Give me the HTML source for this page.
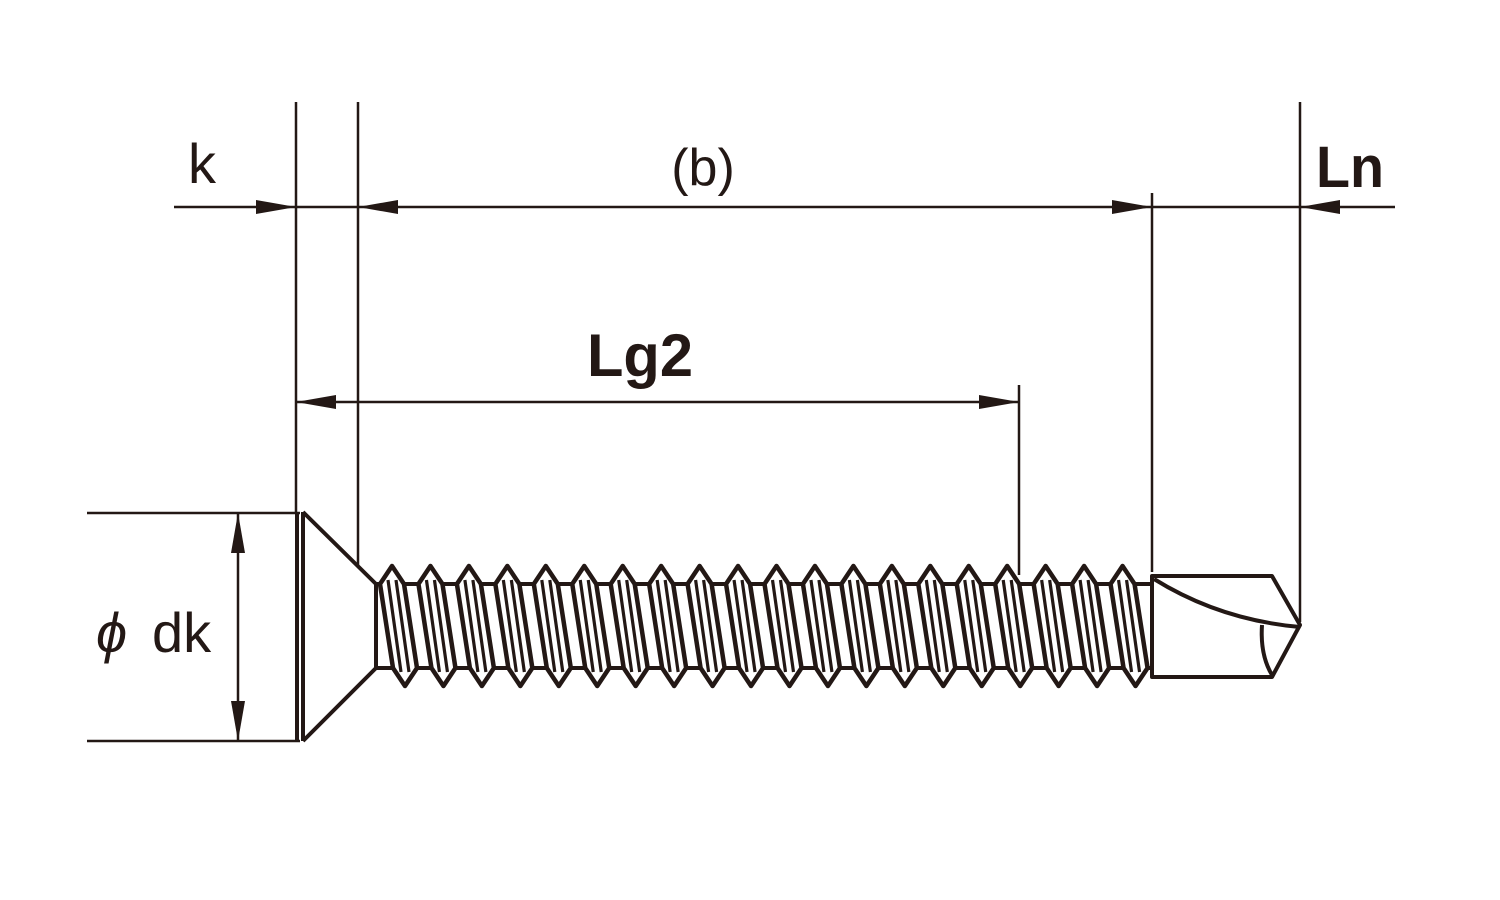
<!DOCTYPE html><html><head><style>body{margin:0;background:#fff}svg{display:block}</style></head><body>
<svg width="1500" height="900" viewBox="0 0 1500 900" xmlns="http://www.w3.org/2000/svg">
<defs>
<marker id="a" markerWidth="40" markerHeight="14" refX="40" refY="7" orient="auto" markerUnits="userSpaceOnUse"><path d="M0,0 L40,7 L0,14 Z" fill="#231815"/></marker>
<g id="t">
<path d="M-12,584 L0,566 L12,584 L25,668 L13,686 L1,668 Z" stroke="#231815" stroke-width="4.5" fill="#fff" stroke-linejoin="round"/>
<path d="M-4,580 L9,672 M4,580 L17,672" stroke="#231815" stroke-width="3.2" fill="none"/>
</g>
</defs>
<g stroke="#231815" stroke-width="2.5" fill="none">
<line x1="296" y1="102" x2="296" y2="512"/>
<line x1="358" y1="102" x2="358" y2="565"/>
<line x1="1152" y1="193" x2="1152" y2="572"/>
<line x1="1300" y1="102" x2="1300" y2="622"/>
<line x1="1019" y1="385" x2="1019" y2="575"/>
<line x1="174" y1="207" x2="296" y2="207" marker-end="url(#a)"/>
<line x1="296" y1="207" x2="358" y2="207"/>
<line x1="760" y1="207" x2="358" y2="207" marker-end="url(#a)"/>
<line x1="760" y1="207" x2="1152" y2="207" marker-end="url(#a)"/>
<line x1="1152" y1="207" x2="1300" y2="207"/>
<line x1="1395" y1="207" x2="1300" y2="207" marker-end="url(#a)"/>
<line x1="660" y1="402" x2="296" y2="402" marker-end="url(#a)"/>
<line x1="660" y1="402" x2="1019" y2="402" marker-end="url(#a)"/>
<line x1="87" y1="513" x2="300" y2="513"/>
<line x1="87" y1="741" x2="300" y2="741"/>
<line x1="238" y1="627" x2="238" y2="513" marker-end="url(#a)"/>
<line x1="238" y1="627" x2="238" y2="741" marker-end="url(#a)"/>
</g>
<g stroke="#231815" stroke-width="4" fill="none" stroke-linejoin="round">
<line x1="297" y1="512" x2="297" y2="741"/>
<line x1="303" y1="512" x2="303" y2="741"/>
<path d="M303,512 L376,584 L376,668 L303,741"/>
<path d="M376,584 L1150,584 M376,668 L1150,668"/>
<path d="M1152,576 L1272,576 L1300,625 L1272,677 L1152,677 Z"/>
<path d="M1154,579 Q1220,620 1300,627"/>
<path d="M1262,625 Q1260,655 1272,675"/>
</g>
<use href="#t" x="392"/><use href="#t" x="430.45"/><use href="#t" x="468.9"/><use href="#t" x="507.35"/>
<use href="#t" x="545.8"/><use href="#t" x="584.25"/><use href="#t" x="622.7"/><use href="#t" x="661.15"/>
<use href="#t" x="699.6"/><use href="#t" x="738.05"/><use href="#t" x="776.5"/><use href="#t" x="814.95"/>
<use href="#t" x="853.4"/><use href="#t" x="891.85"/><use href="#t" x="930.3"/><use href="#t" x="968.75"/>
<use href="#t" x="1007.2"/><use href="#t" x="1045.65"/><use href="#t" x="1084.1"/><use href="#t" x="1122.55"/>
<g fill="#231815" font-family="Liberation Sans, DejaVu Sans, sans-serif">
<text x="188" y="183" font-size="56">k</text>
<text x="703" y="185" font-size="52" text-anchor="middle">(b)</text>
<text x="1350" y="187" font-size="58" font-weight="bold" text-anchor="middle" textLength="68" lengthAdjust="spacingAndGlyphs">Ln</text>
<text x="640" y="376" font-size="60" font-weight="bold" text-anchor="middle" textLength="106" lengthAdjust="spacingAndGlyphs">Lg2</text>
<text x="96" y="652" font-size="56" font-style="italic">ϕ</text>
<text x="152" y="652" font-size="56">dk</text>
</g>
</svg>
</body></html>
